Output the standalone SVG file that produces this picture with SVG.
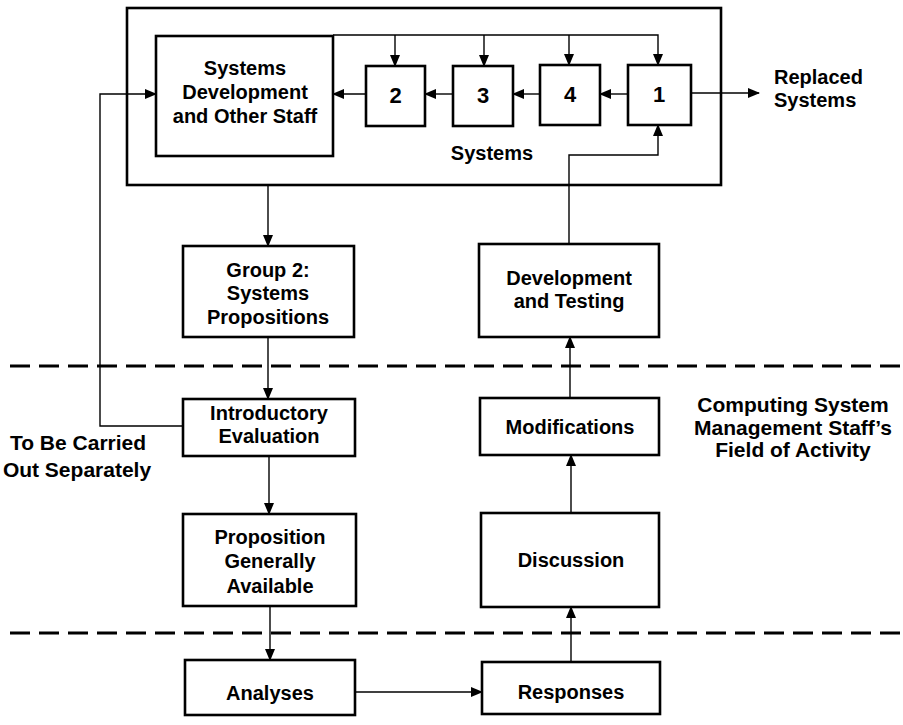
<svg xmlns="http://www.w3.org/2000/svg" width="903" height="725" viewBox="0 0 903 725">
<style>
.box{fill:#fff;stroke:#000;stroke-width:2.6}
.outer{fill:none;stroke:#000;stroke-width:2.6}
.t{font-family:"Liberation Sans",Arial,sans-serif;font-weight:bold;font-size:20px;fill:#000;text-anchor:middle}
.num{font-size:22px}
.lbl{font-size:21px}
.c{fill:none;stroke:#000;stroke-width:1.4}
.dash{fill:none;stroke:#000;stroke-width:3;stroke-dasharray:20 9}
</style>
<defs>
<marker id="ah" markerUnits="userSpaceOnUse" markerWidth="12" markerHeight="10" refX="11" refY="5" orient="auto">
<path d="M0,0 L12,5 L0,10 Z" fill="#000"/>
</marker>
</defs>
<rect class="outer" x="127" y="8" width="594" height="177"/>
<line class="dash" x1="10" y1="366" x2="903" y2="366"/>
<line class="dash" x1="10" y1="633" x2="903" y2="633"/>
<g id="connectors">
<path class="c" d="M333,35 H658 V65" marker-end="url(#ah)"/>
<path class="c" d="M395,35 V66" marker-end="url(#ah)"/>
<path class="c" d="M484,35 V66" marker-end="url(#ah)"/>
<path class="c" d="M569,35 V65" marker-end="url(#ah)"/>
<path class="c" d="M628,94 H600" marker-end="url(#ah)"/>
<path class="c" d="M540,94 H513" marker-end="url(#ah)"/>
<path class="c" d="M453,94 H425" marker-end="url(#ah)"/>
<path class="c" d="M366,94 H333" marker-end="url(#ah)"/>
<path class="c" d="M691,93 H759" marker-end="url(#ah)"/>
<path class="c" d="M569,244 V155 H658 V125" marker-end="url(#ah)"/>
<path class="c" d="M268,185 V246" marker-end="url(#ah)"/>
<path class="c" d="M183,426 H100 V94 H156" marker-end="url(#ah)"/>
<path class="c" d="M268,337 V399" marker-end="url(#ah)"/>
<path class="c" d="M269,456 V514" marker-end="url(#ah)"/>
<path class="c" d="M270,606 V660" marker-end="url(#ah)"/>
<path class="c" d="M355,692 H482" marker-end="url(#ah)"/>
<path class="c" d="M571,662 V607" marker-end="url(#ah)"/>
<path class="c" d="M571,513 V455" marker-end="url(#ah)"/>
<path class="c" d="M570,398 V337" marker-end="url(#ah)"/>
</g>
<g id="sysdev"><rect class="box" x="156" y="36" width="177" height="120"/>
<text class="t" x="245" y="75">Systems</text><text class="t" x="245" y="99">Development</text><text class="t" x="245" y="123">and Other Staff</text></g>
<g id="s2"><rect class="box" x="366" y="66" width="59" height="60"/><text class="t num" x="395.5" y="103">2</text></g>
<g id="s3"><rect class="box" x="453" y="66" width="60" height="60"/><text class="t num" x="483" y="103">3</text></g>
<g id="s4"><rect class="box" x="540" y="65" width="60" height="60"/><text class="t num" x="570" y="102">4</text></g>
<g id="s1"><rect class="box" x="628" y="65" width="63" height="60"/><text class="t num" x="659" y="102">1</text></g>
<g id="systems-label"><text class="t" x="492" y="160">Systems</text></g>
<g id="replaced"><text class="t" x="774" y="84" style="text-anchor:start">Replaced</text><text class="t" x="774" y="107" style="text-anchor:start">Systems</text></g>
<g id="group2"><rect class="box" x="183" y="246" width="171" height="91"/>
<text class="t" x="268" y="277">Group 2:</text><text class="t" x="268" y="300">Systems</text><text class="t" x="268" y="324">Propositions</text></g>
<g id="devtest"><rect class="box" x="479" y="244" width="180" height="93"/>
<text class="t" x="569" y="285">Development</text><text class="t" x="569" y="308">and Testing</text></g>
<g id="intro"><rect class="box" x="183" y="399" width="172" height="57"/>
<text class="t" x="269" y="420">Introductory</text><text class="t" x="269" y="443">Evaluation</text></g>
<g id="mods"><rect class="box" x="480" y="398" width="179" height="57"/>
<text class="t" x="570" y="434">Modifications</text></g>
<g id="separately"><text class="t lbl" x="78" y="450">To Be Carried</text><text class="t lbl" x="77" y="477">Out Separately</text></g>
<g id="csm"><text class="t lbl" x="793" y="412">Computing System</text><text class="t lbl" x="793" y="435">Management Staff’s</text><text class="t lbl" x="793" y="457">Field of Activity</text></g>
<g id="prop"><rect class="box" x="183" y="514" width="173" height="92"/>
<text class="t" x="270" y="544">Proposition</text><text class="t" x="270" y="568">Generally</text><text class="t" x="270" y="593">Available</text></g>
<g id="discussion"><rect class="box" x="481" y="513" width="178" height="94"/>
<text class="t" x="571" y="567">Discussion</text></g>
<g id="analyses"><rect class="box" x="185" y="660" width="170" height="55"/>
<text class="t" x="270" y="700">Analyses</text></g>
<g id="responses"><rect class="box" x="482" y="662" width="178" height="52"/>
<text class="t" x="571" y="699">Responses</text></g>
</svg>
